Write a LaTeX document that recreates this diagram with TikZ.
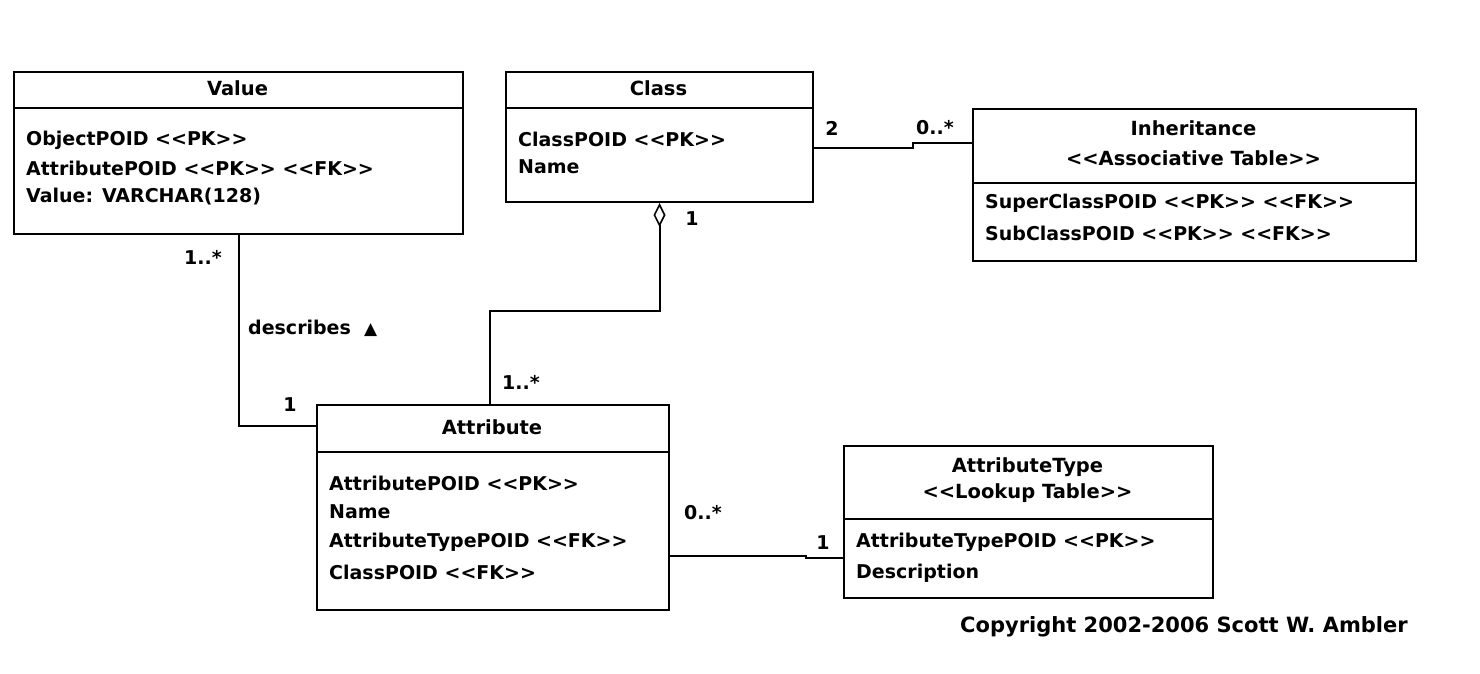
\documentclass[tikz,border=0pt]{standalone}
\usepackage{fontspec}
\setmainfont{DejaVu Sans}[BoldFont={DejaVu Sans Bold},Ligatures=TeXOff]
\newfontfamily\dvsreg{DejaVu Sans}
\usetikzlibrary{arrows.meta}
\begin{document}
\begin{tikzpicture}[x=1pt,y=-1pt,
  umlbox/.style={draw,line width=2pt,inner sep=0pt,anchor=north west},
  sepline/.style={line width=2pt},
  conn/.style={line width=2pt},
  ttl/.style={font=\fontsize{19.5}{22}\selectfont\bfseries,inner sep=0pt,anchor=center},
  body/.style={font=\fontsize{19}{22}\selectfont\bfseries,inner sep=0pt,anchor=west},
  mult/.style={font=\fontsize{19}{22}\selectfont\bfseries,inner sep=0pt,anchor=center}]
\useasboundingbox[fill=white] (0,0) rectangle (1480,673);

% Value
\node[umlbox,minimum width=449pt,minimum height=162pt] (value) at (13,71) {};
\draw[sepline] (13,108) -- (462,108);
\node[ttl] (valuet) at (237.5,88) {Value};
\node[body] (v1) at (26,140) {ObjectPOID <<PK>>};
\node[body] (v2) at (26,168) {AttributePOID <<PK>> <<FK>>};
\node[body] (v3) at (26,197) {Value: VARCHAR(128)};

% Class
\node[umlbox,minimum width=307pt,minimum height=130pt] (class) at (505,71) {};
\draw[sepline] (505,108) -- (812,108);
\node[ttl] (classt) at (658.5,88) {Class};
\node[body] (c1t) at (518,139) {ClassPOID <<PK>>};
\node[body] (c2t) at (518,167) {Name};

% Inheritance
\node[umlbox,minimum width=443pt,minimum height=152pt] (inh) at (972,108) {};
\draw[sepline] (972,183) -- (1415,183);
\node[ttl] (inht1) at (1193.5,128) {Inheritance};
\node[ttl] (inht2) at (1193.5,158) {<<Associative Table>>};
\node[body] (i1) at (985,203) {SuperClassPOID <<PK>> <<FK>>};
\node[body] (i2) at (985,233) {SubClassPOID <<PK>> <<FK>>};

% Attribute
\node[umlbox,minimum width=352pt,minimum height=205pt] (attr) at (316,404) {};
\draw[sepline] (316,452) -- (668,452);
\node[ttl] (attrt) at (492,427) {Attribute};
\node[body] (a1t) at (329,483) {AttributePOID <<PK>>};
\node[body] (a2t) at (329,512) {Name};
\node[body] (a3t) at (329,542) {AttributeTypePOID <<FK>>};
\node[body] (a4t) at (329,572) {ClassPOID <<FK>>};

% AttributeType
\node[umlbox,minimum width=369pt,minimum height=152pt] (atype) at (843,445) {};
\draw[sepline] (843,519) -- (1212,519);
\node[ttl] (att1) at (1027.5,467) {AttributeType};
\node[ttl] (att2) at (1027.5,493) {<<Lookup Table>>};
\node[body] (at1) at (856,542) {AttributeTypePOID <<PK>>};
\node[body] (at2) at (856,573) {Description};

% Connectors
\coordinate (k1) at (913,148);
\coordinate (k2) at (913,143);
\draw[conn] (class.east|-k1) -- (k1) -- (k2) -- (inh.west|-k2);
\node[mult] (m2) at (832,128) {2};
\node[mult] (m0a) at (935,128) {0..*};

\coordinate (g1) at (490,311);
\draw[conn,{Diamond[open,length=24pt,width=12pt,line width=1.6pt]}-] (class.south) -- (class.south|-g1) -- (g1) -- (g1|-attr.north);
\node[mult] (m1a) at (692,219) {1};
\node[mult] (m1b) at (521,382) {1..*};

\coordinate (d0) at (0,426);
\draw[conn] (value.south) -- (value.south|-d0) -- (attr.west|-d0);
\node[mult] (m1c) at (203,257) {1..*};
\node[mult] (m1d) at (290,405) {1};
\node[body] (desc) at (248,328) {describes~~{\dvsreg\fontsize{17}{20}\selectfont ▲}};

\coordinate (t1) at (806,556);
\coordinate (t2) at (806,558);
\draw[conn] (attr.east|-t1) -- (t1) -- (t2) -- (atype.west|-t2);
\node[mult] (m0b) at (703,513) {0..*};
\node[mult] (m1e) at (823,543) {1};

\node[font=\fontsize{21}{24}\selectfont\bfseries,inner sep=0pt,anchor=west] (copy) at (960,627) {Copyright 2002-2006 Scott W. Ambler};
\end{tikzpicture}
\end{document}
